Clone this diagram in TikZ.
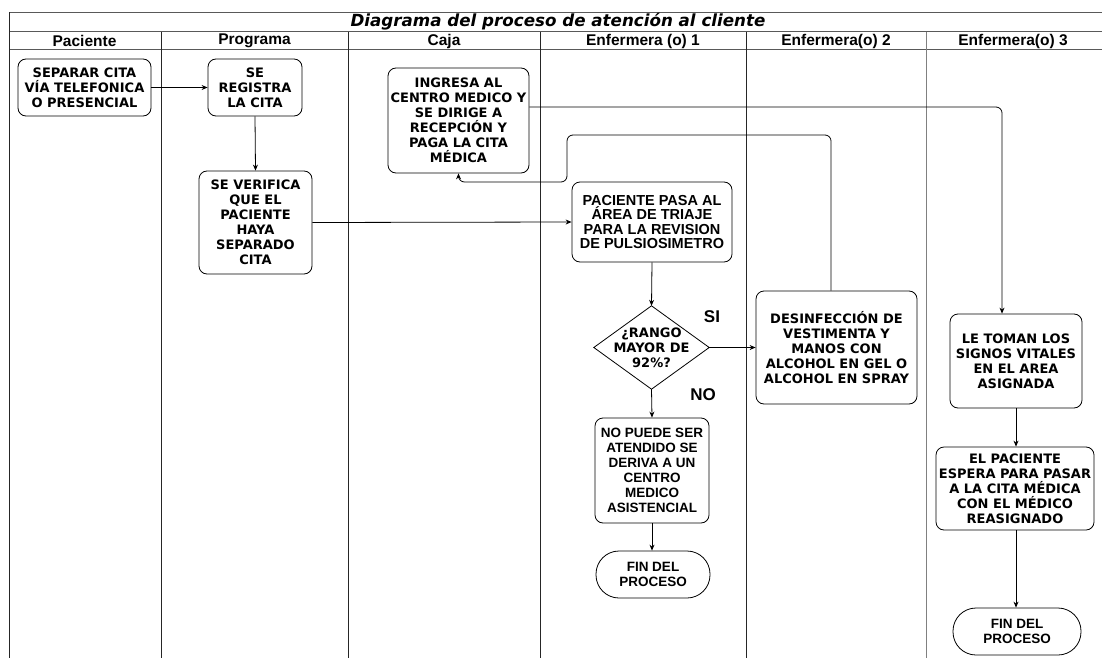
\documentclass[tikz,border=0pt]{standalone}
\usepackage{fontspec}
\newfontfamily\dvs{DejaVu Sans}
\newfontfamily\lib{Liberation Sans}
\usetikzlibrary{arrows.meta}
\begin{document}
\begin{tikzpicture}[x=1pt,y=-1pt,
  frame/.style={line width=1pt, black!85},
  hline/.style={line width=1pt, black!65},
  box/.style={draw, rounded corners=8pt, align=center, inner sep=0pt, line width=0.8pt,
    font=\dvs\bfseries\fontsize{13}{15}\selectfont},
  abox/.style={box, font=\lib\bfseries\fontsize{13.5}{15}\selectfont},
  hdr/.style={inner sep=0pt, font=\lib\bfseries\fontsize{15.5}{18}\selectfont},
  lbl/.style={inner sep=0pt, font=\lib\bfseries\fontsize{17}{18}\selectfont},
  arr/.style={-{Stealth[length=6pt,width=5pt]}, line width=0.8pt},
]
\fill[white] (0,0) rectangle (1102,658);
\useasboundingbox (0,0) rectangle (1102,658);

% frame
\draw[hline] (9,12.5) -- (1102,12.5);
\draw[hline] (9,31.7) -- (1102,31.7);
\draw[hline] (9,50) -- (1102,50);
\draw[frame] (9,12.5) -- (9,658);
\foreach \x in {161,348,540,746} \draw[frame] (\x,31.7) -- (\x,658);
\draw[frame,black!50] (926,31.7) -- (926,658);

% title and headers
\node[inner sep=0pt, font=\dvs\bfseries\itshape\fontsize{16.7}{18}\selectfont] (title) at (558,22) {Diagrama del proceso de atención al cliente};
\node[hdr] (h1) at (84.5,41) {Paciente};
\node[hdr] (h2) at (254.5,41) {Programa};
\node[hdr] (h3) at (444,41) {Caja};
\node[hdr] (h4) at (643,41) {Enfermera (o) 1};
\node[hdr] (h5) at (836,41) {Enfermera(o) 2};
\node[hdr] (h6) at (1013,41) {Enfermera(o) 3};

% nodes
\node[box, minimum width=133, minimum height=57] (sep) at (84.5,87.5) {SEPARAR CITA\\VÍA TELEFONICA\\O PRESENCIAL};
\node[box, minimum width=94, minimum height=57] (reg) at (255,87.5) {SE\\REGISTRA\\LA CITA};
\node[box, minimum width=113, minimum height=103] (ver) at (255.5,222.5) {SE VERIFICA\\QUE EL\\PACIENTE\\HAYA\\SEPARADO\\CITA};
\node[box, minimum width=141, minimum height=105] (ing) at (458.5,120.5) {INGRESA AL\\CENTRO MEDICO Y\\SE DIRIGE A\\RECEPCIÓN Y\\PAGA LA CITA\\MÉDICA};
\node[abox, minimum width=160, minimum height=80, font=\lib\bfseries\fontsize{14.5}{14.3}\selectfont] (pac) at (652,222) {PACIENTE PASA AL\\ÁREA DE TRIAJE\\PARA LA REVISION\\DE PULSIOSIMETRO};
\node[inner sep=0pt, minimum width=115, minimum height=83, align=center, font=\dvs\bfseries\fontsize{13}{15}\selectfont] (dia) at (651.5,347.5) {¿RANGO\\MAYOR DE\\92\%?};
\draw[line width=0.8pt] (dia.north) -- (dia.east) -- (dia.south) -- (dia.west) -- cycle;
\node[box, minimum width=161, minimum height=113] (des) at (836.5,347.5) {DESINFECCIÓN DE\\VESTIMENTA Y\\MANOS CON\\ALCOHOL EN GEL O\\ALCOHOL EN SPRAY};
\node[abox, minimum width=114, minimum height=105] (nop) at (652,470.5) {NO PUEDE SER\\ATENDIDO SE\\DERIVA A UN\\CENTRO\\MEDICO\\ASISTENCIAL};
\node[abox, rounded corners=23pt, minimum width=114, minimum height=47, font=\lib\bfseries\fontsize{13.5}{14.5}\selectfont] (fin1) at (653,574.5) {FIN DEL\\PROCESO};
\node[box, minimum width=132, minimum height=94] (le) at (1016,361) {LE TOMAN LOS\\SIGNOS VITALES\\EN EL AREA\\ASIGNADA};
\node[box, minimum width=158, minimum height=83] (elp) at (1015,488.5) {EL PACIENTE\\ESPERA PARA PASAR\\A LA CITA MÉDICA\\CON EL MÉDICO\\REASIGNADO};
\node[abox, rounded corners=23pt, minimum width=128, minimum height=47, font=\lib\bfseries\fontsize{13.5}{14.5}\selectfont] (fin2) at (1017,631.5) {FIN DEL\\PROCESO};

\node[lbl] (si) at (712,317) {SI};
\node[lbl] (no) at (703,395) {NO};

% helper coordinates
\coordinate (y107) at (0,107);
\coordinate (x1002) at (1002,0);
\coordinate (x831) at (831,0);
\coordinate (k1) at (567,135);
\coordinate (k2) at (567,182);

% connectors
\draw[arr] (sep.east |- reg.west) -- (reg.west);
\draw[arr] (reg.south) -- (ver.north);
\draw[arr] (ver.east) -- (pac.west);
\draw[arr, rounded corners=6pt] (ing.east |- y107) -| (le.north -| x1002);
\draw[arr, rounded corners=6pt] (des.north -| x831) |- (k1) -- (k2) -| (ing.south);
\draw[arr] (pac.south) -- (dia.north);
\draw[arr] (dia.east) -- (des.west |- dia.east);
\draw[arr] (dia.south) -- (nop.north);
\draw[arr] (nop.south) -- (fin1.north -| nop.south);
\draw[arr] (le.south) -- (elp.north -| le.south);
\draw[arr] (elp.south -| le.south) -- (fin2.north -| le.south);
\end{tikzpicture}
\end{document}
